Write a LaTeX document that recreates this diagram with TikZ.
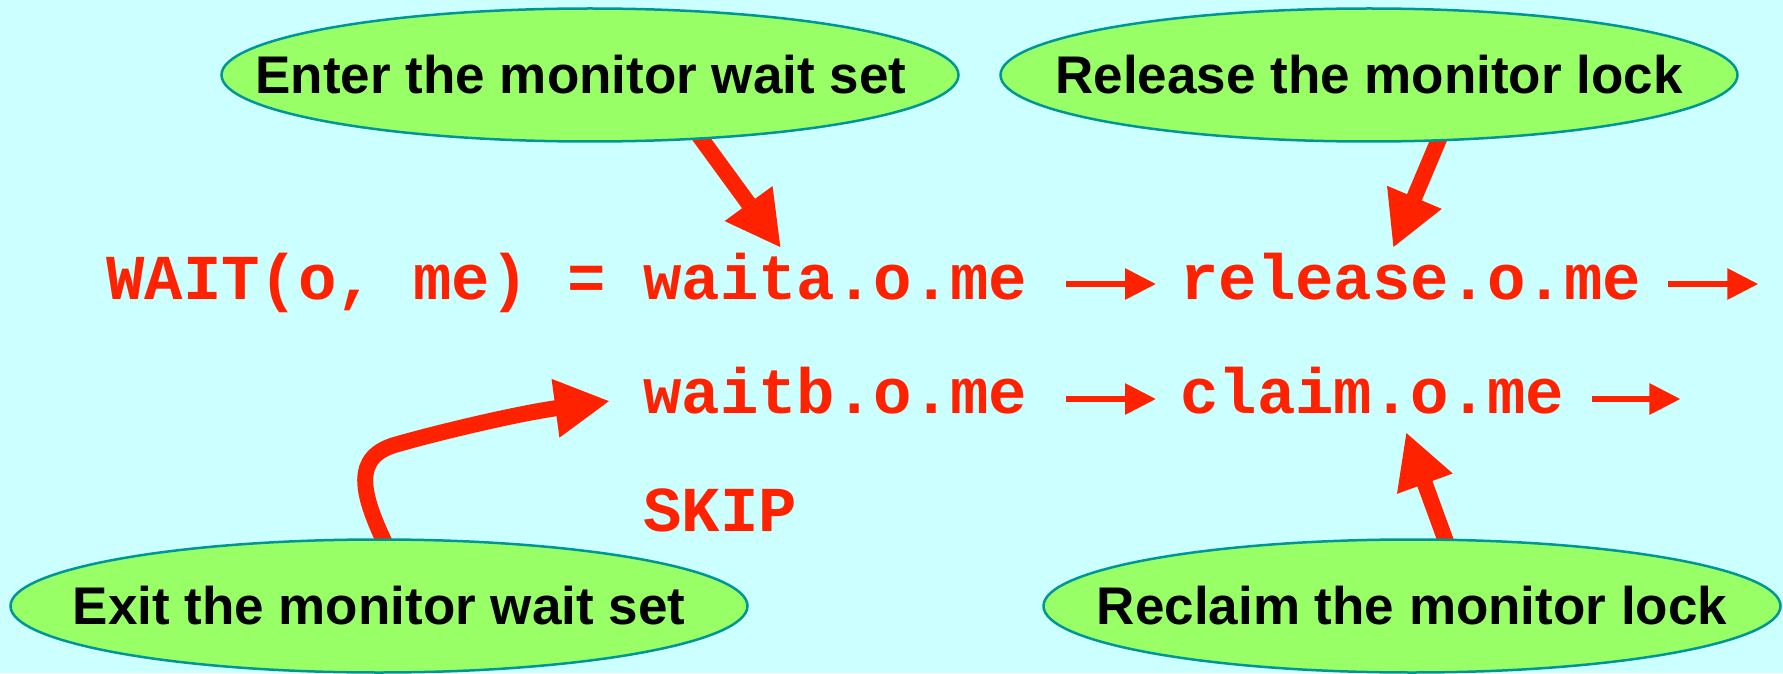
\documentclass[tikz,border=0pt]{standalone}
\usepackage{fontspec}
\usetikzlibrary{arrows.meta,shapes.geometric}
\newfontfamily\notefont{Liberation Sans}
\newfontfamily\cspfont{Liberation Mono}
\definecolor{bgcyan}{RGB}{204,255,255}
\definecolor{notegreen}{RGB}{153,255,102}
\definecolor{noteedge}{RGB}{0,150,150}
\definecolor{cspred}{RGB}{255,34,0}
\pgfdeclarelayer{paper}
\pgfdeclarelayer{pointers}
\pgfsetlayers{paper,pointers,main}

\begin{document}
\begin{tikzpicture}[x=1pt, y=1pt,
  note/.style={ellipse, draw=noteedge, line width=2.5pt, fill=notegreen,
    minimum width=737pt, minimum height=133pt, inner sep=0pt},
  notetext/.style={text=black, font=\notefont\bfseries\fontsize{53}{60}\selectfont},
  csp/.style={anchor=base west, inner sep=0pt, text=cspred,
    font=\cspfont\bfseries\fontsize{64}{70}\selectfont},
  seq/.style={cspred, line width=6pt, -{Triangle[length=31pt,width=30pt]}},
  pointer/.style={cspred, line width=16pt, -{Triangle[length=55pt,width=55pt]}, shorten <=-12pt}]
% geometry: 1 unit = 1px of the 1783x673 slide, y goes down
\def\rowa{-299}
\def\rowb{-413}
\def\rowc{-531}

% ---- slide background ----
\begin{pgfonlayer}{paper}
  \path[use as bounding box, fill=bgcyan] (0,0) rectangle (1783,-673);
\end{pgfonlayer}

% ---- comment bubbles ----
\node[note, label={[notetext, xshift=-9pt]center:Enter the monitor wait set}] (enter) at (590,-75) {};
\node[note, label={[notetext]center:Release the monitor lock}] (relk) at (1369,-75) {};
\node[note, label={[notetext]center:Exit the monitor wait set}] (exitw) at (379,-606) {};
\node[note, label={[notetext]center:Reclaim the monitor lock}] (rclm) at (1412,-606) {};

% ---- process definition ----
\node[csp] (lhs) at (106,\rowa) {WAIT(o, me) =};
\node[csp] (waita) at (643,\rowa) {waita.o.me};
\node[csp] (release) at (1180,\rowa) {release.o.me};
\node[csp] (waitb) at (643,\rowb) {waitb.o.me};
\node[csp] (claim) at (1180,\rowb) {claim.o.me};
\node[csp] (skip) at (643,\rowc) {SKIP};

% ---- prefix arrows ----
\draw[seq] ([shift={(39,15)}]waita.base east) -- ([shift={(-24,15)}]release.base west);
\draw[seq] ([shift={(27,15)}]release.base east) -- ++(90,0);
\draw[seq] ([shift={(39,14)}]waitb.base east) -- ([shift={(-24,14)}]claim.base west);
\draw[seq] ([shift={(28,14)}]claim.base east) -- ++(88,0);

% ---- bubble pointers (behind the bubbles) ----
\begin{pgfonlayer}{pointers}
  \draw[pointer] (enter.-30) -- ([shift={(138,51)}]waita.base west);
  \draw[pointer] (relk.-44) -- ([shift={(213,51)}]release.base west);
  \draw[pointer] (exitw.87) .. controls (360,-492) and (352,-456) .. (398,-444)
    .. controls (440,-432) and (520,-413) .. ([shift={(-33,12)}]waitb.base west);
  \draw[pointer] (rclm.64) -- ([shift={(226,-19)}]claim.base west);
\end{pgfonlayer}
\end{tikzpicture}
\end{document}
